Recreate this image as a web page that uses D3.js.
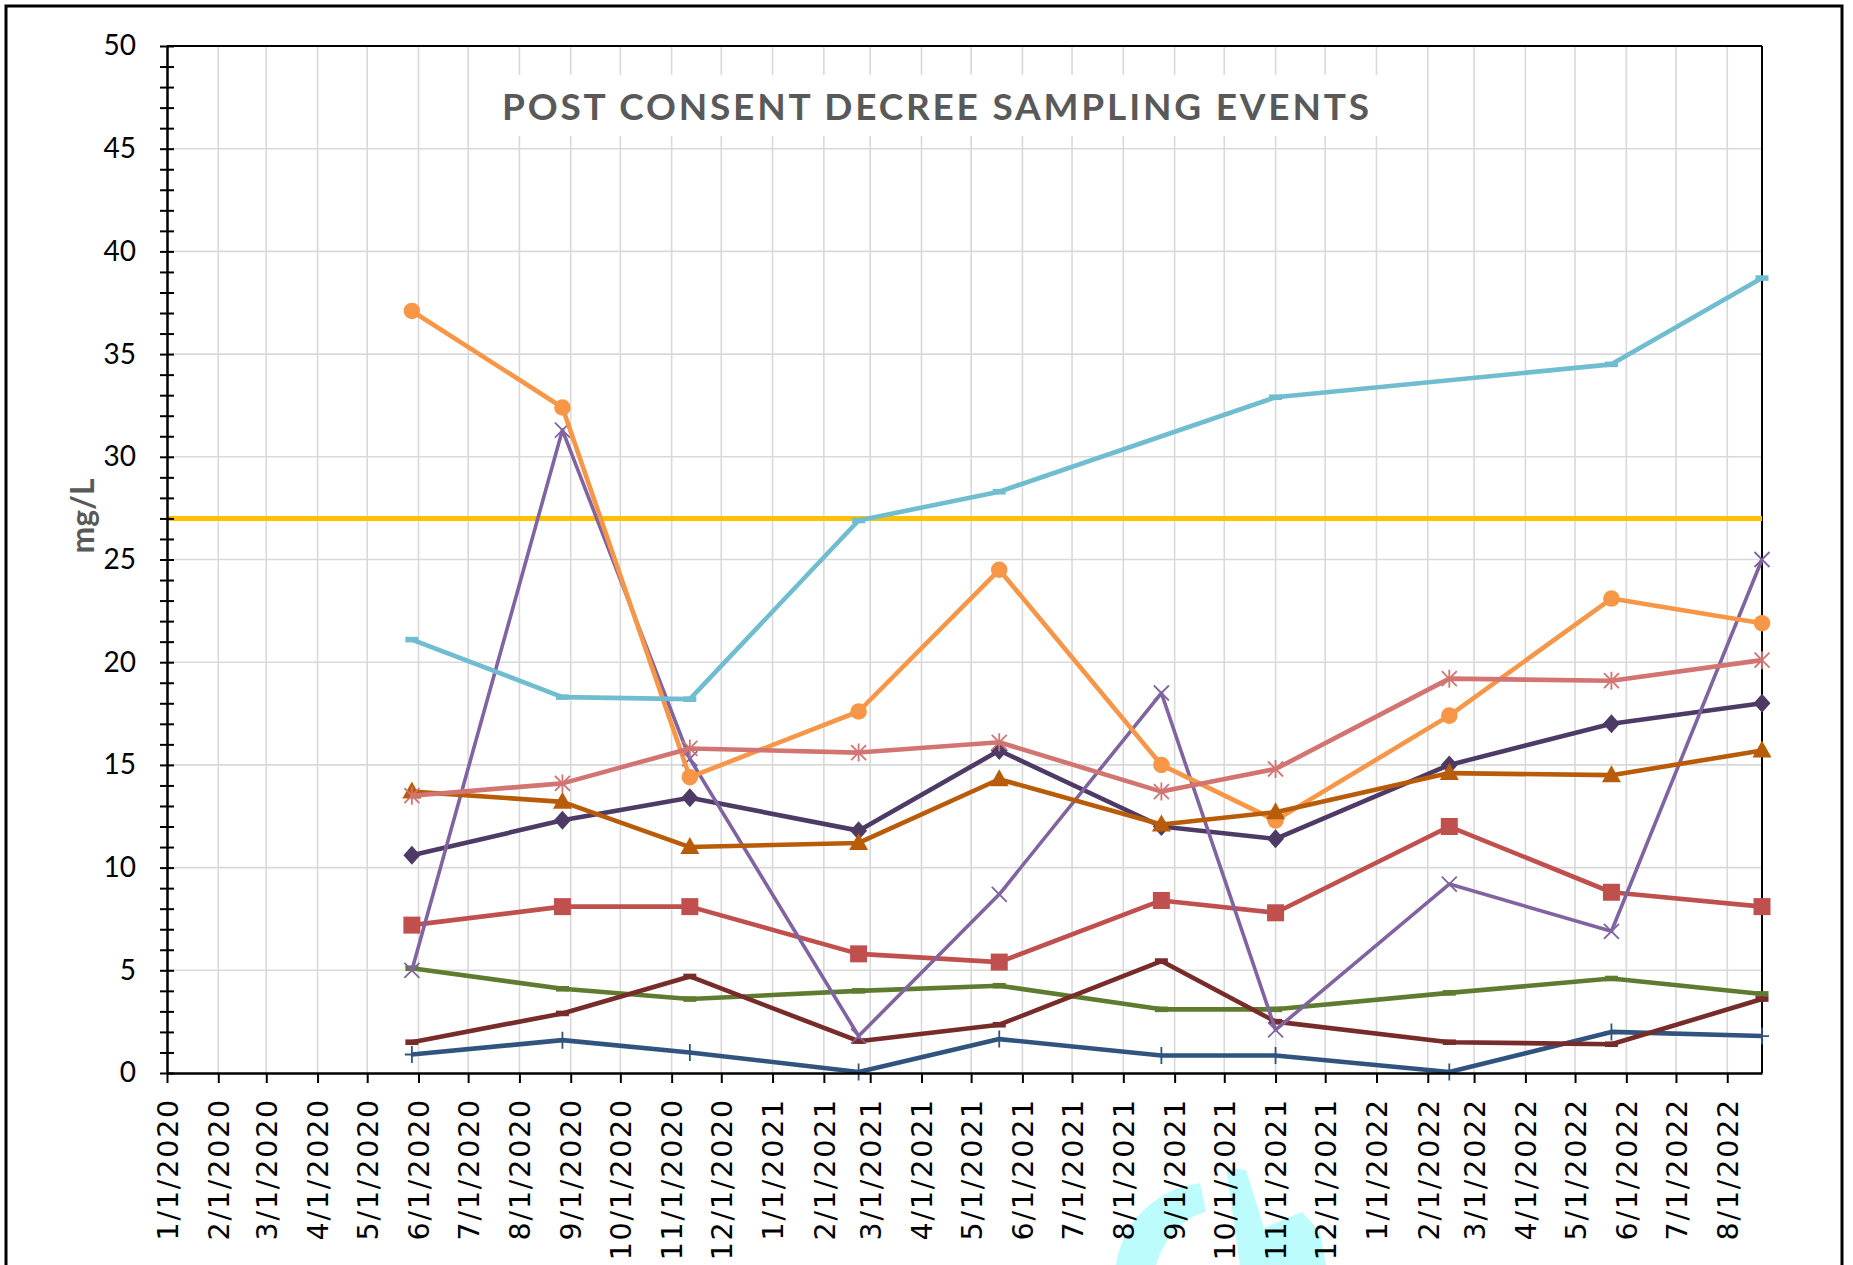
<!DOCTYPE html>
<html>
<head>
<meta charset="utf-8">
<script src="https://cdn.jsdelivr.net/npm/d3@7"></script>
<style>
  body { margin: 0; background: #fff; }
  svg { display: block; }
</style>
</head>
<body>
<svg id="chart" width="1853" height="1265"></svg>
<script>
// sampling dates (x) and the mg/L readings
var sampleDates = ["2020-05-28", "2020-08-27", "2020-11-12", "2021-02-22", "2021-05-18",
                   "2021-08-24", "2021-11-01", "2022-02-14", "2022-05-23", "2022-08-22"];
var axisStart = "2020-01-01";
var axisEnd = "2022-08-22";

var orangeCircle = [37.1, 32.4, 14.4, 17.6, 24.5, 15.0, 12.3, 17.4, 23.1, 21.9];
var lightBlue    = [21.1, 18.3, 18.2, 26.9, 28.3, null, 32.9, null, 34.5, 38.7];
var purpleX      = [5.0, 31.3, 15.3, 1.8, 8.7, 18.5, 2.1, 9.2, 6.9, 25.0];
var pinkStar     = [13.5, 14.1, 15.8, 15.6, 16.1, 13.7, 14.8, 19.2, 19.1, 20.1];
var darkDiamond  = [10.6, 12.3, 13.4, 11.8, 15.7, 12.0, 11.4, 15.0, 17.0, 18.0];
var rustTriangle = [13.7, 13.2, 11.0, 11.2, 14.3, 12.1, 12.7, 14.6, 14.5, 15.7];
var redSquare    = [7.2, 8.1, 8.1, 5.8, 5.4, 8.4, 7.8, 12.0, 8.8, 8.1];
var greenDash    = [5.1, 4.1, 3.6, 4.0, 4.25, 3.1, 3.1, 3.9, 4.6, 3.85];
var maroonDash   = [1.5, 2.9, 4.7, 1.55, 2.35, 5.45, 2.5, 1.5, 1.4, 3.6];
var navyPlus     = [0.9, 1.6, 1.0, 0.05, 1.65, 0.85, 0.85, 0.05, 2.0, 1.8];
var limitValue = 27;

var yTicks = d3.range(0, 51, 5);
var yMinor = d3.range(0, 51, 1);
var chartTitle = "POST CONSENT DECREE SAMPLING EVENTS";
var yLabel = "mg/L";

var svg = d3.select("#chart");
var parseDate = d3.timeParse("%Y-%m-%d");
var dates = sampleDates.map(parseDate);

var plotLeft = 167, plotRight = 1762, plotTop = 46, plotBottom = 1073;
var x = d3.scaleTime().domain([parseDate(axisStart), parseDate(axisEnd)]).range([plotLeft, plotRight]);
var y = d3.scaleLinear().domain([0, 50]).range([plotBottom, plotTop]);

// outer frame
svg.append("rect").attr("x", 6).attr("y", 6).attr("width", 1836).attr("height", 1300)
    .attr("fill", "#fff").attr("stroke", "#000").attr("stroke-width", 3);

// cyan blob at the bottom (something sitting on top of the original page)
svg.append("path")
    .attr("d", "M1116,1265 C1122,1230 1142,1203 1178,1188 L1200,1183 L1206,1212 C1185,1217 1166,1234 1156,1265 Z")
    .attr("fill", "#bdfcfc");
svg.append("path")
    .attr("d", "M1226,1168 L1246,1170 L1264,1228 L1302,1212 L1320,1232 L1326,1265 L1240,1265 Z")
    .attr("fill", "#bdfcfc");

var monthTicks = x.ticks(d3.timeMonth.every(1));

// grid
svg.append("g").selectAll("line").data(monthTicks.slice(1)).join("line")
    .attr("x1", d => x(d)).attr("x2", d => x(d))
    .attr("y1", plotTop).attr("y2", plotBottom)
    .attr("stroke", "#d9d9d9").attr("stroke-width", 1.6);
svg.append("g").selectAll("line").data(yTicks.filter(d => d > 0 && d < 50)).join("line")
    .attr("x1", plotLeft).attr("x2", plotRight)
    .attr("y1", d => y(d)).attr("y2", d => y(d))
    .attr("stroke", "#d9d9d9").attr("stroke-width", 1.6);

// title on its white box
svg.append("rect").attr("x", 495).attr("y", 75).attr("width", 890).attr("height", 61).attr("fill", "#fff");
svg.append("text").attr("x", 502).attr("y", 120)
    .attr("textLength", 867).attr("lengthAdjust", "spacing")
    .style("font-family", "Lato, 'Open Sans', sans-serif").style("font-weight", "bold")
    .style("font-size", "37px").attr("fill", "#595959")
    .text(chartTitle);

// plot border top/right
svg.append("line").attr("x1", plotLeft).attr("x2", plotRight).attr("y1", plotTop).attr("y2", plotTop)
    .attr("stroke", "#000").attr("stroke-width", 2);
svg.append("line").attr("x1", plotRight).attr("x2", plotRight).attr("y1", plotTop).attr("y2", plotBottom)
    .attr("stroke", "#000").attr("stroke-width", 2);

// limit line
svg.append("line").attr("x1", plotLeft).attr("x2", plotRight)
    .attr("y1", y(limitValue)).attr("y2", y(limitValue))
    .attr("stroke", "#ffc000").attr("stroke-width", 5);

// series drawing
function markerPath(kind) {
    switch (kind) {
        case "circle": return d3.symbol(d3.symbolCircle, 215)();
        case "square": return "M-8.5,-8.5H8.5V8.5H-8.5Z";
        case "triangle": return "M0,-10L9.5,7H-9.5Z";
        case "diamond": return "M0,-9.5L8.5,0L0,9.5L-8.5,0Z";
        case "star": return "M0,-9V9M-7.5,-7.5L7.5,7.5M7.5,-7.5L-7.5,7.5";
        case "x": return "M-7.5,-7.5L7.5,7.5M7.5,-7.5L-7.5,7.5";
        case "plus": return "M0,-8.5V8.5M-7,0H7";
        case "dash": return "M-6.5,-2.8H6.5V2.8H-6.5Z";
    }
}

var series = [
    { values: navyPlus,     color: "#30547e", width: 4.6, marker: "plus" },
    { values: greenDash,    color: "#5f7b30", width: 4.6, marker: "dash" },
    { values: maroonDash,   color: "#772c2a", width: 4.6, marker: "dash" },
    { values: redSquare,    color: "#c0504d", width: 4.6, marker: "square" },
    { values: darkDiamond,  color: "#4d3b66", width: 4.6, marker: "diamond" },
    { values: purpleX,      color: "#8064a2", width: 3.6, marker: "x" },
    { values: orangeCircle, color: "#f79646", width: 4.6, marker: "circle" },
    { values: rustTriangle, color: "#b95c0a", width: 4.6, marker: "triangle" },
    { values: pinkStar,     color: "#d27471", width: 4.6, marker: "star" },
    { values: lightBlue,    color: "#70bdd0", width: 4.6, marker: "dash" }
];

var line = d3.line().x(d => x(d.date)).y(d => y(d.v));

series.forEach(function (s) {
    var pts = s.values.map((v, i) => ({ date: dates[i], v: v })).filter(d => d.v != null);
    var g = svg.append("g");
    g.append("path").datum(pts).attr("d", line)
        .attr("fill", "none").attr("stroke", s.color).attr("stroke-width", s.width)
        .attr("stroke-linejoin", "round");
    var stroked = s.marker === "star" || s.marker === "x" || s.marker === "plus";
    g.selectAll("path.mk").data(pts).join("path").attr("class", "mk")
        .attr("transform", d => "translate(" + x(d.date) + "," + y(d.v) + ")")
        .attr("d", markerPath(s.marker))
        .attr("fill", stroked ? "none" : s.color)
        .attr("stroke", stroked ? s.color : "none")
        .attr("stroke-width", 1.8);
});

// axes
var yAxis = svg.append("g").attr("transform", "translate(" + plotLeft + ",0)")
    .call(d3.axisLeft(y).tickValues(yMinor).tickSizeInner(7).tickSizeOuter(0).tickPadding(24)
        .tickFormat(d => d % 5 === 0 ? d : ""));
yAxis.select(".domain").attr("stroke", "#000").attr("stroke-width", 2.5);
yAxis.selectAll(".tick line").attr("x1", 7).attr("stroke", "#000").attr("stroke-width", 2);
yAxis.selectAll(".tick text").style("font-family", "Lato, sans-serif").style("font-size", "28px").attr("fill", "#000");

var xAxis = svg.append("g").attr("transform", "translate(0," + plotBottom + ")")
    .call(d3.axisBottom(x).tickValues(monthTicks).tickSizeInner(10).tickSizeOuter(0)
        .tickFormat(d3.timeFormat("%-m/%-d/%Y")));
xAxis.select(".domain").attr("stroke", "#000").attr("stroke-width", 2.5);
xAxis.selectAll(".tick line").attr("stroke", "#000").attr("stroke-width", 2);
xAxis.selectAll(".tick text")
    .attr("transform", "rotate(-90)").attr("x", -25).attr("y", 0).attr("dy", "0.36em")
    .style("text-anchor", "end")
    .style("font-family", "'DejaVu Sans', sans-serif").style("font-size", "28.5px")
    .style("letter-spacing", "1.8px").attr("fill", "#000");

// y axis title
svg.append("text").attr("transform", "translate(94,516) rotate(-90)")
    .style("text-anchor", "middle")
    .style("font-family", "Lato, sans-serif").style("font-weight", "bold").style("font-size", "32px")
    .attr("fill", "#595959").text(yLabel);
</script>
</body>
</html>
